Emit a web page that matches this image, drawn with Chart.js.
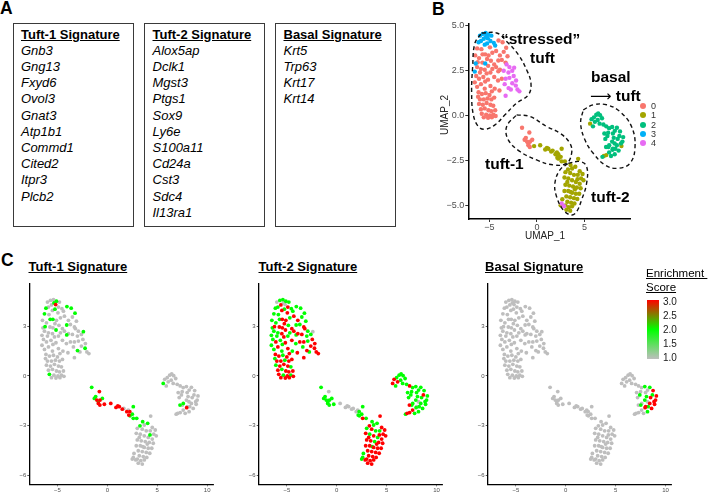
<!DOCTYPE html>
<html><head><meta charset="utf-8">
<script src="https://cdn.jsdelivr.net/npm/chart.js@4.4.0/dist/chart.umd.min.js"></script>
<style>
html,body{margin:0;padding:0;background:#fff;}
body{width:711px;height:492px;position:relative;overflow:hidden;font-family:"Liberation Sans",Arial,Helvetica,sans-serif;color:#000;}
.lbl{position:absolute;font-weight:bold;font-size:17.5px;line-height:1;}
.box{position:absolute;border:1.5px solid #3a3a3a;box-sizing:border-box;top:23px;height:204px;padding:2.5px 0 0 7.5px;}
.box .t{font-weight:bold;text-decoration:underline;font-size:13px;line-height:16.2px;white-space:nowrap;}
.box .g{font-style:italic;font-size:13px;line-height:16.2px;white-space:nowrap;}
.ann{position:absolute;font-weight:bold;font-size:15.5px;line-height:18px;white-space:nowrap;}
.ttl{position:absolute;font-weight:bold;text-decoration:underline;font-size:13px;line-height:16px;white-space:nowrap;}
canvas{position:absolute;}
.leg{position:absolute;width:6px;height:6px;border-radius:50%;}
.legt{position:absolute;font-size:9px;line-height:10px;color:#333;}
.cbt{position:absolute;font-size:10px;line-height:12px;color:#1a1a1a;}
</style>
</head><body>
<script>
// ---------------- DATA ----------------
const tuft1Genes = ["Gnb3","Gng13","Fxyd6","Ovol3","Gnat3","Atp1b1","Commd1","Cited2","Itpr3","Plcb2"];
const tuft2Genes = ["Alox5ap","Dclk1","Mgst3","Ptgs1","Sox9","Ly6e","S100a11","Cd24a","Cst3","Sdc4","Il13ra1"];
const basalGenes = ["Krt5","Trp63","Krt17","Krt14"];
const clusterNames = ["0","1","2","3","4"];
const clusterColors = ["#F8766D","#A3A500","#00BF7D","#00B0F6","#E76BF3"];
const xTicksB = [-5,0,5];
const yTicksB = [-5,-2.5,0,2.5,5];
const xTicksC = [-5,0,5,10];
const yTicksC = [-6,-3,0,3];
const scaleTicks = [3.0,2.5,2.0,1.5,1.0];

// cells: [UMAP_1, UMAP_2, tuft-1 score, tuft-2 score, basal score]
const cluster3 = [
[-6.0,4.45,1,1,1],[-5.7,4.55,1,2,1],[-5.4,4.6,1,2,1],[-5.1,4.5,2,2,1],[-5.35,4.4,2,1,1],
[-4.8,4.45,1,2,1],[-5.6,4.28,1,3,1],[-5.18,4.3,3,1,1],[-4.9,4.15,1,3,1],[-5.9,4.15,1,2,1],
[-4.55,4.05,1,2,1],[-5.25,4.02,2,2,1],[-6.15,4.08,2,2,1],[-5.5,3.95,1,3,1],[-4.4,3.9,1,2,1],
[-6.45,2.9,1,2,1],[-6.55,2.45,1,2,1],[-5.45,2.9,1,3,1]
];
const cluster0 = [
[-6.3,3.74,2,2,1],[-5.85,3.7,1,2,1],[-4.95,3.8,1,3,1],[-4.05,4.18,2,2,1],[-3.62,4.08,2,2,1],
[-3.24,3.78,2,2,1],[-3.5,3.55,1,2,1],[-4.3,3.6,1,3,1],[-4.7,3.5,1,2,1],[-5.73,3.41,2,2,1],
[-5.46,3.41,2,3,1],[-5.1,3.35,1,3,1],[-6.5,3.35,1,2,1],[-3.9,3.35,1,3,1],[-3.1,3.3,1,2,1],
[-6.1,3.2,1,2,1],[-5.25,3.15,1,3,1],[-4.85,3.05,1,2,1],[-4.07,3.07,2,2,1],[-3.7,3.1,1,2,1],
[-3.3,2.95,1,3,1],[-6.24,2.97,2,3,1],[-5.75,2.95,1,3,1],[-4.5,2.85,1,3,1],
[-6.3,2.7,1,2,1],[-5.9,2.6,1,2,1],[-5.14,2.77,2,3,1],[-5.5,2.55,1,3,1],[-4.7,2.6,1,2,1],
[-4.3,2.7,1,3,1],[-3.9,2.55,1,3,1],[-4.07,2.47,2,2,1],[-4.9,2.4,1,2,1],[-5.3,2.35,1,3,1],
[-6.0,2.4,1,2,1],[-6.4,2.2,1,2,1],[-6.1,2.05,1,3,1],[-5.65,2.15,1,2,1],[-5.15,2.0,1,3,1],
[-4.5,2.15,1,3,1],[-4.1,1.95,1,2,1],[-3.7,2.05,1,3,1],[-6.55,1.85,1,2,1],[-5.45,1.9,1,2,1],
[-6.3,1.6,1,2,1],[-5.9,1.75,1,3,1],[-5.5,1.5,1,2,1],[-4.9,1.65,1,3,1],[-4.45,1.5,1,2,1],
[-3.95,1.4,1,3,1],[-6.15,1.3,1,3,1],[-4.75,1.35,1,3,1],
[-5.8,1.2,1,3,1],[-5.4,1.25,1,2,1],[-5.0,1.15,1,3,1],[-6.2,1.05,1,2,1],[-6.0,0.9,1,3,1],
[-5.6,0.9,1,3,1],[-5.2,0.95,1,2,1],[-4.8,0.9,1,3,1],[-4.5,1.0,1,3,1],[-6.1,0.65,1,2,1],
[-5.7,0.6,1,3,1],[-5.3,0.7,1,3,1],[-4.9,0.6,1,3,1],[-4.6,0.55,1,2,1],[-5.9,0.35,1,3,1],
[-5.5,0.4,1,2,1],[-5.1,0.3,1,3,1],[-4.8,0.25,1,3,1],[-4.4,0.3,1,3,1],[-5.81,0.1,2,3,1],
[-5.35,0.05,1,2,1],[-4.95,0.0,1,3,1],[-4.6,0.05,1,2,1],[-5.6,-0.1,1,3,1],[-5.15,-0.12,1,3,1],
[-4.35,-0.02,1,3,1],[-4.75,-0.1,1,3,1],
[-1.57,-0.68,2,2,1],[-0.8,-0.94,3,1,1],[-1.17,-1.24,2,2,1],[-1.3,-1.35,2,2,1],[-0.5,-1.35,2,2,1],
[-0.9,-1.55,2,2,1],[-0.73,-1.45,3,2,1],[-0.9,-1.65,3,2,1],[-1.05,-1.45,3,2,1],[-0.75,-1.75,3,2,1]
];
const cluster4 = [
[-3.2,2.85,1,3,1],[-2.9,2.7,1,2,1],[-2.4,2.67,2,1,1],[-3.5,2.5,1,3,1],[-3.0,2.4,1,2,1],
[-2.6,2.5,1,2,1],[-2.45,2.2,1,3,1],[-2.9,2.1,1,2,1],[-3.3,2.05,1,3,1],[-2.2,1.95,1,3,1],
[-2.6,1.8,1,3,1],[-2.23,1.67,2,3,1],[-2.05,1.45,1,3,1],[-1.85,1.35,1,3,1],[-3.4,1.75,1,2,1],
[-2.99,1.53,2,3,1],[-3.3,1.1,1,3,1],[-2.75,1.45,1,2,1],
[2.6,-4.9,1,2,1],[2.85,-5.05,1,3,1]
];
const cluster1 = [
[-0.3,-1.7,3,2,1],[0.34,-1.65,3,1,1],[0.87,-1.89,3,1,1],[1.05,-1.8,3,1,1],[1.2,-1.85,3,1,1],
[1.5,-2.0,3,1,1],[1.65,-1.95,1,1,1],[1.95,-2.15,3,1,1],[2.1,-2.05,1,1,1],[2.15,-2.35,3,2,1],
[2.25,-2.15,3,2,1],[2.6,-1.85,2,2,1],[2.27,-2.4,2,2,1],[2.6,-2.55,2,3,1],[2.94,-2.55,2,2,1],
[2.5,-2.3,2,2,1],[3.54,-2.75,2,2,1],[4.04,-2.85,2,2,1],[3.27,-3.0,2,3,1],[4.34,-2.41,1,3,1],
[4.27,-3.55,2,3,1],
[3.7,-2.95,1,2,1],[4.5,-3.1,1,3,1],[4.8,-3.25,1,3,1],[3.0,-3.15,1,2,1],[3.5,-3.2,1,3,1],
[3.9,-3.3,1,2,1],[4.65,-3.5,1,3,1],[2.9,-3.45,1,3,1],[3.3,-3.5,1,2,1],[3.7,-3.6,1,3,1],
[4.1,-3.7,1,2,1],[4.5,-3.8,1,3,1],[4.9,-3.6,1,3,1],[3.0,-3.85,1,3,1],[3.4,-3.9,1,3,1],
[3.8,-3.95,1,2,1],[4.2,-4.0,1,3,1],[4.6,-4.05,1,3,1],[2.9,-4.2,1,3,1],[3.3,-4.2,1,3,1],
[3.7,-4.3,1,3,1],[4.1,-4.35,1,3,1],[4.45,-4.35,1,3,1],[3.1,-4.5,1,3,1],[3.5,-4.55,1,3,1],
[3.9,-4.6,1,3,1],[4.25,-4.65,1,3,1],[2.67,-4.66,1,2,1],[3.2,-4.8,1,3,1],[3.6,-4.85,1,3,1],
[3.95,-4.9,1,3,1],[3.0,-5.0,1,3,1],[3.35,-5.1,1,3,1],[3.7,-5.05,1,3,1],[3.1,-5.25,1,3,1],
[2.5,-5.0,1,2,1],[3.5,-5.3,1,3,1],[3.2,-3.7,1,3,1],[4.0,-4.1,1,3,1],[3.55,-4.25,1,2,1],
[4.3,-3.3,1,2,1],
[5.6,-0.45,2,3,1],[8.9,-1.7,1,2,3],[7.05,-2.25,1,3,1],[7.3,-2.2,1,3,1]
];
const cluster2 = [
[5.75,-0.2,1,3,1],[6.0,-0.1,1,2,1],[6.25,0.05,1,2,1],[6.45,0.12,1,2,1],[6.65,0.02,1,2,1],
[6.85,-0.15,1,2,1],[6.4,-0.25,1,2,1],[6.1,-0.35,1,3,1],[5.9,-0.6,1,2,1],[6.6,-0.45,1,2,1],
[7.0,-0.5,1,2,1],[7.3,-0.6,1,3,1],[7.6,-0.7,1,2,1],[7.92,-0.64,1,2,2],[8.42,-0.68,1,2,2],
[8.2,-0.85,1,2,1],[7.5,-0.95,1,2,1],[8.0,-1.0,1,2,1],[8.75,-0.88,1,2,3],[8.68,-1.14,1,3,2],
[7.42,-1.14,1,2,2],[8.09,-1.24,1,2,2],[9.08,-1.2,1,2,3],[8.5,-1.3,1,2,3],[7.92,-1.45,1,2,2],
[8.85,-1.55,1,2,3],[8.42,-1.65,1,2,3],[8.18,-1.55,1,1,1],[7.52,-1.75,1,2,2],[7.28,-1.75,2,3,1],
[7.61,-1.65,2,2,1],[8.0,-1.85,1,1,3],[8.26,-1.85,1,2,2],[7.95,-1.91,3,2,3],[8.6,-1.95,1,2,3],
[8.19,-2.15,1,2,2],[7.6,-2.05,1,3,1],[7.2,-1.3,1,2,1],[6.9,-2.3,1,2,1],[7.8,-2.25,1,2,1],
[7.1,-1.0,1,2,1],[9.0,-1.45,1,2,3]
];
// dashed outlines of panel B (UMAP coordinates)
const outlineStressed = [[-5.82,4.6],[-4.24,4.6],[-3.19,4.13],[-1.96,3.39],[-1.09,2.55],[-0.63,1.8],[-0.91,1.15],[-2.14,0.69],[-3.37,0.04],[-4.42,-0.52],[-5.47,-0.76],[-6.17,-0.61],[-6.7,0.04],[-6.88,1.25],[-6.77,2.73],[-6.53,4.04],[-5.82,4.6]];
const outlineTuft1 = [[-2.14,0.04],[-0.74,-0.05],[1.02,-0.61],[2.42,-0.98],[3.47,-1.54],[3.65,-2.1],[3.12,-2.66],[1.72,-2.75],[-0.04,-2.47],[-1.79,-2.0],[-3.02,-1.35],[-3.19,-0.61],[-2.14,0.04]];
const outlineTuft2 = [[3.3,-2.66],[4.53,-2.56],[5.23,-2.84],[5.23,-3.77],[4.7,-4.7],[4.18,-5.35],[3.65,-5.54],[2.77,-5.26],[2.07,-4.52],[1.89,-3.77],[2.42,-3.03],[3.3,-2.66]];
const outlineBasal = [[4.88,0.32],[5.93,0.6],[7.33,0.6],[8.74,0.22],[9.96,-0.61],[10.33,-1.73],[9.79,-2.66],[8.39,-2.94],[7.16,-2.75],[5.93,-2.1],[5.05,-1.35],[4.6,-0.42],[4.88,0.32]];

// ---------------- PAGE ----------------
const FONT = "Liberation Sans";
function el(tag, cls, style, html){const e=document.createElement(tag); if(cls) e.className=cls; if(style) e.style.cssText=style; if(html!==undefined) e.innerHTML=html; document.body.appendChild(e); return e;}

el('div','lbl','left:0px;top:0px;','A');
el('div','lbl','left:432px;top:1px;','B');
el('div','lbl','left:1px;top:252px;','C');

function geneBox(left,width,title,genes){
  const b = el('div','box',`left:${left}px;width:${width}px;`);
  b.innerHTML = `<div class="t">${title}</div>` + genes.map(g=>`<div class="g">${g}</div>`).join('');
}
geneBox(12.5,121,'Tuft-1 Signature',tuft1Genes);
geneBox(144,120.5,'Tuft-2 Signature',tuft2Genes);
geneBox(275,121,'Basal Signature',basalGenes);

function mkCanvas(left,top,w,h){const c=document.createElement('canvas'); c.width=w; c.height=h; c.style.left=left+'px'; c.style.top=top+'px'; c.style.width=w+'px'; c.style.height=h+'px'; document.body.appendChild(c); return c;}

const minus = s => String(s).replace('-','\u2212');
function axes(o){
  const common = (ticks,fmt,isX)=>({
    type:'linear',
    afterBuildTicks:s=>{s.ticks=ticks.map(v=>({value:v}));},
    grid:{display:true,drawOnChartArea:false,drawTicks:true,tickLength:o.tl,color:'#333',lineWidth:o.tw},
    border:{display:true,color:'#000',width:o.bw},
    ticks:{font:{size:o.fs,family:FONT},color:'#4d4d4d',padding:isX?o.padx:o.pady,maxRotation:0,minRotation:0,autoSkip:false,callback:v=>minus(fmt(v))}
  });
  const x = Object.assign(common(o.xt,o.fx,true),{min:o.xmin,max:o.xmax,afterFit:s=>{s.height=o.xh;}});
  const y = Object.assign(common(o.yt,o.fy,false),{min:o.ymin,max:o.ymax,afterFit:s=>{s.width=o.yw;}});
  return {x,y};
}
const baseOpts = (pad,scales)=>({responsive:false,animation:false,events:[],devicePixelRatio:1,
  layout:{padding:pad},plugins:{legend:{display:false},tooltip:{enabled:false}},
  elements:{line:{capBezierPoints:false}},scales});

// ---- Panel B ----
const allClusters = [cluster0,cluster1,cluster2,cluster3,cluster4];
const cB = mkCanvas(420,0,291,250);
const outlineDS = [outlineStressed,outlineTuft1,outlineTuft2,outlineBasal].map(o=>({
  data:o.map(p=>({x:p[0],y:p[1]})),showLine:true,borderColor:'#111',borderWidth:1.4,borderDash:[4,3],
  pointRadius:0,fill:false,tension:0.4,clip:false}));
const clusterDS = allClusters.map((c,i)=>({
  data:c.map(p=>({x:p[0],y:p[1]})),pointRadius:2.2,pointBorderWidth:0,backgroundColor:clusterColors[i],borderColor:clusterColors[i],showLine:false}));
new Chart(cB,{type:'scatter',data:{datasets:[...outlineDS,...clusterDS.reverse()]},
  options:baseOpts({left:0,top:24,right:81,bottom:0},axes({xmin:-7.23,xmax:9.8,ymin:-5.76,ymax:5.1,xt:xTicksB,yt:yTicksB,
    fx:v=>v,fy:v=>v.toFixed(1),tl:3,tw:1,bw:1.5,fs:9,padx:0,pady:1,xh:31,yw:48.3}))});

el('div','','position:absolute;left:415px;top:110px;width:60px;text-align:center;font-size:10px;line-height:10px;color:#222;transform:rotate(-90deg);transform-origin:30px 5px;','UMAP_2');
el('div','','position:absolute;left:515px;top:231px;width:60px;text-align:center;font-size:10px;line-height:10px;color:#222;','UMAP_1');
el('div','ann','left:501px;top:30px;','\u201Cstressed\u201D');
el('div','ann','left:530px;top:49px;','tuft');
el('div','ann','left:591px;top:68px;','basal');
el('div','ann','left:590px;top:87px;','<span style="font-weight:normal;font-family:\'DejaVu Sans\';font-size:15px;">\u27F6</span> tuft');
el('div','ann','left:485px;top:155px;','tuft-1');
el('div','ann','left:591px;top:188px;','tuft-2');
const legY=[106,115.3,124.6,133.9,143.2];
clusterNames.forEach((n,i)=>{
  el('div','leg',`left:639.7px;top:${legY[i]-3}px;background:${clusterColors[i]};`);
  el('div','legt',`left:651px;top:${legY[i]-5}px;`,n);
});

// ---- Panel C ----
function scoreColor(s){
  const g=[190,190,190], gr=[0,255,0], r=[255,0,0];
  let a,b,t; if(s<=2){a=g;b=gr;t=Math.max(0,s-1);} else {a=gr;b=r;t=Math.min(1,s-2);}
  return `rgb(${a.map((v,i)=>Math.round(v+(b[i]-v)*t)).join(',')})`;
}
const allCells = [].concat(cluster0,cluster1,cluster2,cluster3,cluster4);
const panelsC = [
  {left:0,w:230,yw:29.3,col:2,title:'Tuft-1 Signature',tleft:28.5},
  {left:230,w:230,yw:28.7,col:3,title:'Tuft-2 Signature',tleft:258.5},
  {left:460,w:251,yw:27.7,col:4,title:'Basal Signature',tleft:485}
];
panelsC.forEach(p=>{
  const c = mkCanvas(p.left,275,p.w,217);
  const cells = allCells.slice().sort((a,b)=>a[p.col]-b[p.col]);
  const plotW = 18.42*9.98;
  new Chart(c,{type:'scatter',data:{datasets:[{data:cells.map(q=>({x:q[0],y:q[1]})),
      pointRadius:1.9,pointBorderWidth:0,backgroundColor:cells.map(q=>scoreColor(q[p.col])),showLine:false}]},
    options:baseOpts({left:0,top:8.3,right:p.w-p.yw-plotW,bottom:0},axes({xmin:-7.82,xmax:10.6,ymin:-6.52,ymax:5.58,
      xt:xTicksC,yt:yTicksC,fx:v=>v,fy:v=>v,tl:2,tw:0.8,bw:1.3,fs:6,padx:0,pady:1,xh:7.7,yw:p.yw}))});
  el('div','ttl',`left:${p.tleft}px;top:258.5px;`,p.title);
});

// colour scale legend
el('div','','position:absolute;left:646px;top:266px;font-size:11.5px;line-height:14px;text-decoration:underline;white-space:pre;','Enrichment \nScore');
el('div','','position:absolute;left:646.7px;top:300px;width:12.6px;height:58.5px;background:linear-gradient(to top,rgb(190,190,190) 0%,rgb(0,255,0) 50%,rgb(255,0,0) 100%);');
const cbY=[301.7,315.9,330.1,344.2,358.3];
scaleTicks.forEach((v,i)=>el('div','cbt',`left:663px;top:${cbY[i]-6}px;`,v.toFixed(1)));
</script>
</body></html>
